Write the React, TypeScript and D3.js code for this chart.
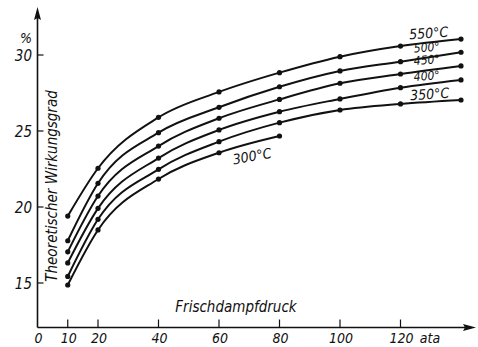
import React from "react";
import * as d3 from "d3";

const pressures = [10, 20, 40, 60, 80, 100, 120, 140];
const s550 = [19.4, 22.55, 25.9, 27.57, 28.84, 29.89, 30.59, 31.05];
const s500 = [17.78, 21.56, 24.89, 26.56, 27.91, 28.95, 29.56, 30.18];
const s450 = [17.05, 20.72, 24.01, 25.84, 27.08, 28.14, 28.75, 29.28];
const s400 = [16.32, 19.91, 23.22, 25.07, 26.27, 27.11, 27.85, 28.36];
const s350 = [15.43, 19.19, 22.48, 24.3, 25.55, 26.38, 26.78, 27.04];
const s300 = [14.87, 18.49, 21.84, 23.57, 24.67];

const seriesList = [
  { name: "550", values: s550 },
  { name: "500", values: s500 },
  { name: "450", values: s450 },
  { name: "400", values: s400 },
  { name: "350", values: s350 },
  { name: "300", values: s300 },
];

const xTicks = [10, 20, 40, 60, 80, 100, 120];
const xTickLabels = ["0", "10", "20", "40", "60", "80", "100", "120"];
const yTicks = [15, 20, 25, 30];

const FONT = "'DejaVu Sans Condensed', 'DejaVu Sans', sans-serif";

export default function App() {
  const x = d3.scaleLinear().domain([0, 140]).range([37.5, 461]);
  const y = d3.scaleLinear().domain([15, 30]).range([283, 55]);
  const axisY = 327.5;
  const axisX = x(0);

  const line = d3
    .line<[number, number]>()
    .x((d) => x(d[0]))
    .y((d) => y(d[1]))
    .curve(d3.curveMonotoneX);

  const textStyle: React.CSSProperties = {
    fontFamily: FONT,
    fontStyle: "italic",
    fontStretch: "condensed",
    fill: "#111",
  };

  const labelVals = [0, ...xTicks];

  return (
    <svg
      width={478}
      height={347}
      style={{ position: "absolute", left: 0, top: 0, background: "#fff" }}
    >
      {/* axes */}
      <line x1={axisX} y1={axisY} x2={470} y2={axisY} stroke="#111" strokeWidth={1.6} />
      <path d={`M476,${axisY} L463,${axisY - 3.5} L465,${axisY} L463,${axisY + 3.5} Z`} fill="#111" />
      <line x1={axisX} y1={axisY} x2={axisX} y2={14} stroke="#111" strokeWidth={1.6} />
      <path d={`M${axisX},7 L${axisX - 3.5},20 L${axisX},18 L${axisX + 3.5},20 Z`} fill="#111" />

      {/* x ticks */}
      {xTicks.map((t) => (
        <line key={t} x1={x(t)} x2={x(t)} y1={axisY} y2={axisY - 8} stroke="#111" strokeWidth={1.2} />
      ))}
      {labelVals.map((t, i) => (
        <text key={t} x={x(t) + 1} y={343} textAnchor="middle" fontSize={14} style={textStyle}>
          {xTickLabels[i]}
        </text>
      ))}
      <text x={430} y={343} textAnchor="middle" fontSize={14} style={textStyle}>
        ata
      </text>

      {/* y ticks */}
      {yTicks.map((t) => (
        <g key={t}>
          <line x1={axisX} x2={axisX + 6} y1={y(t)} y2={y(t)} stroke="#111" strokeWidth={1.2} />
          <text x={32} y={y(t) + 5.5} textAnchor="end" fontSize={15} style={textStyle}>
            {t}
          </text>
        </g>
      ))}
      <text x={32} y={43} textAnchor="end" fontSize={14} style={textStyle}>
        %
      </text>

      {/* axis titles */}
      <text x={236} y={312} textAnchor="middle" fontSize={15} style={textStyle}>
        Frischdampfdruck
      </text>
      <text
        transform="translate(57,186) rotate(-90)"
        textAnchor="middle"
        fontSize={15}
        style={textStyle}
      >
        Theoretischer Wirkungsgrad
      </text>

      {/* curves */}
      {seriesList.map((s) => {
        const pts = s.values.map((v, i) => [pressures[i], v] as [number, number]);
        return (
          <g key={s.name}>
            <path d={line(pts) || ""} fill="none" stroke="#111" strokeWidth={2} />
            {pts.map((p, i) => (
              <circle key={i} cx={x(p[0])} cy={y(p[1])} r={2.6} fill="#111" />
            ))}
          </g>
        );
      })}

      {/* curve labels */}
      <text x={429} y={38} textAnchor="middle" fontSize={14} style={textStyle} transform="rotate(-4,429,38)">
        550°C
      </text>
      <text x={427} y={51.5} textAnchor="middle" fontSize={12} style={textStyle} transform="rotate(-4,427,51.5)">
        500°
      </text>
      <text x={427} y={64} textAnchor="middle" fontSize={12} style={textStyle} transform="rotate(-4,427,64)">
        450°
      </text>
      <text x={427} y={80} textAnchor="middle" fontSize={12} style={textStyle} transform="rotate(-4,427,80)">
        400°
      </text>
      <text x={430} y={99} textAnchor="middle" fontSize={14} style={textStyle} transform="rotate(-4,430,99)">
        350°C
      </text>
      <text x={253} y={161} textAnchor="middle" fontSize={14} style={textStyle} transform="rotate(-10,253,161)">
        300°C
      </text>
    </svg>
  );
}
